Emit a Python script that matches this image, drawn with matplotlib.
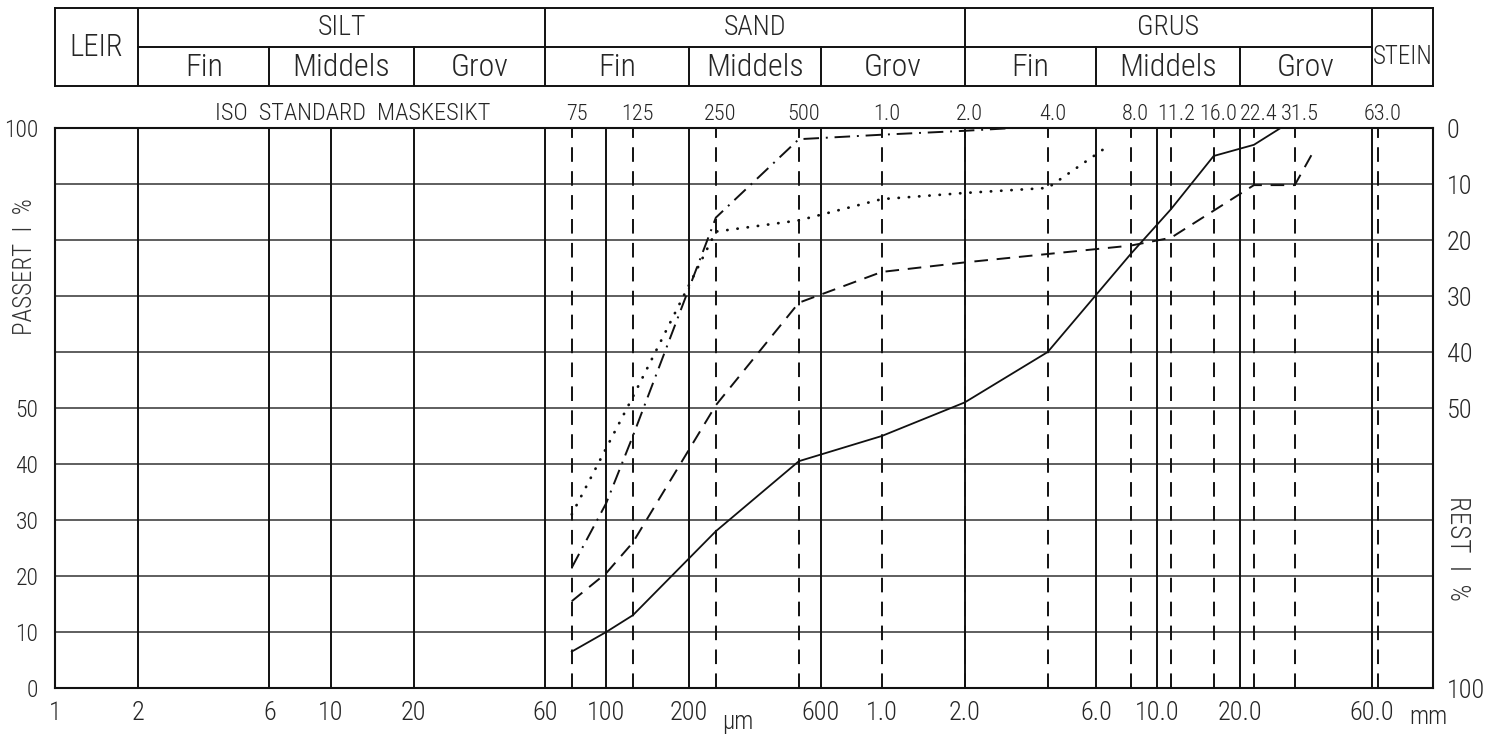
import matplotlib
matplotlib.use('Agg')
import matplotlib.pyplot as plt
from matplotlib import transforms, font_manager
import numpy as np

# smal skrift hvis den finnes, ellers Roboto i litt mindre storrelse
installed = {f.name for f in font_manager.fontManager.ttflist}
font_name, k = 'Roboto', 0.86
for cand in ['Liberation Sans Narrow', 'Roboto Condensed', 'Open Sans Condensed']:
    if cand in installed:
        font_name, k = cand, 1.0
        break
plt.rcParams['font.family'] = [font_name, 'DejaVu Sans']
plt.rcParams['font.weight'] = 'light'

# siktestorrelser (um) og etiketter
sieve_um = [75, 125, 250, 500, 1000, 2000, 4000, 8000, 11200, 16000, 22400, 31500, 63000]
sieve_labels = ['75', '125', '250', '500', '1.0', '2.0', '4.0', '8.0', '11.2', '16.0', '22.4', '31.5', '63.0']

grid_um = [2, 6, 10, 20, 60, 100, 200, 600, 2000, 6000, 10000, 20000, 60000]
tick_um = [1, 2, 6, 10, 20, 60, 100, 200, 600, 1000, 2000, 6000, 10000, 20000, 60000]
tick_labels = ['1', '2', '6', '10', '20', '60', '100', '200', '600', '1.0', '2.0', '6.0', '10.0', '20.0', '60.0']

left_ticks = [0, 10, 20, 30, 40, 50, 100]
left_labels = ['0', '10', '20', '30', '40', '50', '100']
right_ticks = [100, 90, 80, 70, 60, 50, 0]
right_labels = ['0', '10', '20', '30', '40', '50', '100']

# tabell over kornfraksjoner
main_classes = ['LEIR', 'SILT', 'SAND', 'GRUS', 'STEIN']
main_bounds = [1, 2, 60, 2000, 60000, 100000]
sub_classes = ['Fin', 'Middels', 'Grov']
sub_bounds = [[2, 6, 20, 60], [60, 200, 600, 2000], [2000, 6000, 20000, 60000]]

# kurver, passert %
solid_x = [75, 100, 125, 250, 500, 1000, 2000, 4000, 8000, 11200, 16000, 22400, 28000]
solid_y = [6.5, 10, 13, 28, 40.5, 45, 51, 60, 77.5, 85.5, 95, 97, 100]

dashdot_x = [75, 100, 125, 250, 500, 1000, 2000, 3000]
dashdot_y = [21.5, 33, 45, 84, 98, 98.8, 99.5, 100]

dotted_x = [75, 125, 250, 500, 1000, 2000, 4000, 6500]
dotted_y = [31, 52, 81.5, 83.5, 87.3, 88.4, 89.3, 96.5]

dashed_x = [75, 100, 125, 250, 500, 1000, 2000, 4000, 8000, 11200, 22400, 31500, 37500]
dashed_y = [15.5, 20.5, 26, 50.5, 68.8, 74.3, 76, 77.5, 79, 80.4, 89.8, 89.8, 96.5]

TXT = '#262626'
LN = '#111111'

W, H = 1491, 736
fig = plt.figure(figsize=(W / 100, H / 100), dpi=100)
fig.patch.set_facecolor('white')

left, right, top, bottom = 55, 1433, 128, 688
ax = fig.add_axes([left / W, 1 - bottom / H, (right - left) / W, (bottom - top) / H])
ax.set_xscale('log')
ax.set_xlim(1, 100000)
ax.set_ylim(0, 100)
for s in ax.spines.values():
    s.set_linewidth(1.5)
    s.set_color(LN)

for y in np.arange(10, 100, 10):
    ax.axhline(y, color='#333333', lw=1.1, zorder=1)
for g in grid_um:
    ax.axvline(g, color=LN, lw=1.4, zorder=1)
for s in sieve_um:
    ax.axvline(s, color=LN, lw=1.4, linestyle=(0, (7.5, 4.8)), zorder=1)

# kurvene
ax.plot(solid_x, solid_y, color=LN, lw=1.3, zorder=3)
ax.plot(dashdot_x, dashdot_y, color=LN, lw=1.4,
        linestyle=(0, (8, 3.5, 1, 3.5)), zorder=3)
ax.plot(dotted_x, dotted_y, color=LN, lw=2.0,
        linestyle=(0, (0.1, 3.6)), dash_capstyle='round', zorder=3)
ax.plot(dashed_x, dashed_y, color=LN, lw=1.4,
        linestyle=(0, (7, 4.5)), zorder=3)

ax.minorticks_off()
ax.set_xticks(tick_um, tick_labels)
ax.set_yticks(left_ticks, left_labels)
ax.tick_params(axis='x', length=0, pad=9, labelsize=19 * k, labelcolor=TXT)
ax.tick_params(axis='y', length=0, pad=12, labelsize=17 * k, labelcolor=TXT)

ax2 = ax.twinx()
ax2.set_ylim(0, 100)
ax2.set_yticks(right_ticks, right_labels)
ax2.tick_params(axis='y', length=0, pad=10, labelsize=19 * k, labelcolor=TXT)
for s in ax2.spines.values():
    s.set_visible(False)

# siktetall over diagrammet
for s, lab in zip(sieve_um, sieve_labels):
    ax.text(s * 1.04, 100.6, lab, ha='center', va='bottom', fontsize=16 * k * k,
            color=TXT, clip_on=False)
ax.text(12, 100.6, 'ISO  STANDARD  MASKESIKT', ha='center', va='bottom',
        fontsize=17.5 * k, color=TXT, clip_on=False)

trans = transforms.blended_transform_factory(ax.transData, ax.transAxes)
ax.text(300, -0.04, 'µm', ha='center', va='top', fontsize=18 * k,
        color=TXT, transform=trans)
ax.text(82000, -0.03, 'mm', ha='left', va='top', fontsize=18 * k,
        color=TXT, transform=trans)

fig.text(25 / W, 1 - 267 / H, 'PASSERT  I  %', rotation=90, ha='center',
         va='center', fontsize=18 * k, color='#333333')
fig.text(1458 / W, 1 - 548 / H, 'REST  I  %', rotation=-90, ha='center',
         va='center', fontsize=19.5 * k, color='#333333')

# tabellhode
hx = fig.add_axes([left / W, 1 - 86 / H, (right - left) / W, 78 / H])
hx.set_xscale('log')
hx.set_xlim(1, 100000)
hx.set_ylim(0, 2)
hx.set_xticks([])
hx.set_yticks([])
hx.minorticks_off()
for s in hx.spines.values():
    s.set_linewidth(1.4)
    s.set_color(LN)
for b in main_bounds[1:-1]:
    hx.axvline(b, color=LN, lw=1.4)
hx.plot([main_bounds[1], main_bounds[-2]], [1, 1], color=LN, lw=1.4)
for bounds in sub_bounds:
    for b in bounds[1:-1]:
        hx.axvline(b, ymax=0.5, color=LN, lw=1.4)
    for i, name in enumerate(sub_classes):
        xc = np.sqrt(bounds[i] * bounds[i + 1])
        hx.text(xc, 0.47, name, ha='center', va='center', fontsize=23 * k, color=TXT)

for i, name in enumerate(main_classes):
    xc = np.sqrt(main_bounds[i] * main_bounds[i + 1])
    if name == 'LEIR':
        hx.text(xc, 1.0, name, ha='center', va='center', fontsize=22 * k, color=TXT)
    elif name == 'STEIN':
        hx.text(xc, 0.75, name, ha='center', va='center', fontsize=18 * k, color=TXT)
    else:
        hx.text(xc, 1.5, name, ha='center', va='center', fontsize=20 * k, color=TXT)

fig.savefig('out.png', dpi=100)
